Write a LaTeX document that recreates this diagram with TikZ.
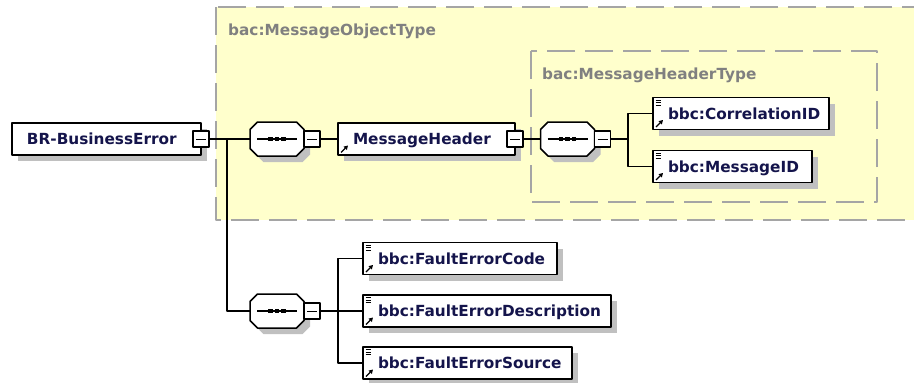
\documentclass[tikz,border=0pt]{standalone}
\usepackage{fontspec}
\setmainfont{DejaVu Sans}
\usetikzlibrary{shadows,arrows.meta}
\definecolor{navy}{RGB}{20,20,75}
\definecolor{lblgray}{RGB}{128,128,128}
\definecolor{dashgray}{RGB}{165,165,165}
\definecolor{paleyellow}{RGB}{255,255,204}
\definecolor{shadowgray}{RGB}{192,192,192}
\newcommand\elemfont{\bfseries\fontsize{15.3}{18}\selectfont}
\tikzset{
  grp/.style={draw=dashgray, line width=2pt, dash pattern=on 28pt off 10pt, fill=paleyellow},
  grplbl/.style={font=\elemfont, text=lblgray, anchor=base west, inner sep=0pt},
  boxshadow/.style={drop shadow={fill=shadowgray, opacity=1, shadow xshift=6pt, shadow yshift=-6pt}},
  elem/.style={draw, line width=1.5pt, fill=white, anchor=north west, minimum height=32pt, outer sep=0pt,
    inner xsep=15pt, inner ysep=0pt, text width=#1, align=left, text height=11.5pt, text depth=0pt,
    font=\elemfont, text=navy, boxshadow},
  refmark/.style={line width=1.3pt, -{Triangle[length=4pt,width=4.5pt]}},
  refelem/.style={elem=#1, path picture={
      \draw[refmark] ([shift={(3pt,2.5pt)}]path picture bounding box.south west) -- ++(7pt,7pt);}},
  bbcelem/.style={elem=#1, path picture={
      \draw[refmark] ([shift={(3pt,2.5pt)}]path picture bounding box.south west) -- ++(7pt,7pt);
      \foreach \k in {2.5,5,7.5}
        \draw[line width=1pt] ([shift={(2.5pt,-\k*1pt)}]path picture bounding box.north west) -- ++(5pt,0pt);}},
  seqbox/.style={minimum width=54pt, minimum height=34pt, inner sep=0pt, outer sep=0pt},
  seqline/.style={draw, line width=1.5pt, fill=white, boxshadow},
  minus/.style={draw, line width=1.2pt, fill=white, minimum size=16pt, inner sep=0pt, outer sep=0pt, path picture={
      \draw[line width=1pt] ([xshift=3pt]path picture bounding box.west) -- ([xshift=-3pt]path picture bounding box.east);}},
  wire/.style={line width=1.5pt}
}
\begin{document}
\begin{tikzpicture}[x=1pt, y=-1pt, line join=round]
  \useasboundingbox (0,0) rectangle (914,383);
  \clip (0,0) rectangle (914,383);
  % groups
  \draw[grp] (216,7) rectangle (930,220);
  \node (objtype) [grplbl] at (228,35) {bac:MessageObjectType};
  \draw[grp] (531,51) rectangle (877,202);
  \node (hdrtype) [grplbl] at (542,79) {bac:MessageHeaderType};
  % root
  \node (br) [elem=159pt] at (12,123) {BR-BusinessError};
  \node (br-m) [minus] at (br.east) {};
  \coordinate (fork1) at (227,139);
  % sequences
  \node (seq1) [seqbox] at (277,139) {};
  \node (seq2) [seqbox] at (567.5,139) {};
  \node (seq3) [seqbox] at (277,311) {};
  \foreach \s in {seq1,seq2,seq3} {
    \draw[seqline] ([xshift=7.5pt]\s.north west) -- ([xshift=-7.5pt]\s.north east) -- ([yshift=-7.5pt]\s.north east)
      -- ([yshift=7.5pt]\s.south east) -- ([xshift=-7.5pt]\s.south east) -- ([xshift=7.5pt]\s.south west)
      -- ([yshift=7.5pt]\s.south west) -- ([yshift=-7.5pt]\s.north west) -- cycle;
    \draw[line width=1.2pt] ([xshift=-20pt]\s.center) -- ([xshift=20pt]\s.center);
    \foreach \d in {-6.5,0,6.5}
      \fill[black] ([xshift=\d*1pt]\s.center) +(-2.25pt,-2.25pt) rectangle +(2.25pt,2.25pt);
  }
  \node (seq1-m) [minus, anchor=west] at (seq1.east) {};
  \node (seq2-m) [minus, anchor=west] at (seq2.east) {};
  \node (seq3-m) [minus, anchor=west] at (seq3.east) {};
  % header branch
  \node (mh) [refelem=147pt] at (338,123) {MessageHeader};
  \node (mh-m) [minus] at (mh.east) {};
  \coordinate (fork2) at (628,139);
  \node (cid) [bbcelem=146pt] at (653,97.5) {bbc:CorrelationID};
  \node (mid) [bbcelem=129pt] at (653,150.5) {bbc:MessageID};
  % fault branch
  \coordinate (fork3) at (338,311);
  \node (fec) [bbcelem=164pt] at (363,242.5) {bbc:FaultErrorCode};
  \node (fed) [bbcelem=218pt] at (363,295) {bbc:FaultErrorDescription};
  \node (fes) [bbcelem=179pt] at (363,347) {bbc:FaultErrorSource};
  % connectors
  \draw[wire] (br-m.east) -- (seq1.west);
  \draw[wire] (fork1) |- (seq3.west);
  \draw[wire] (seq1-m.east) -- (mh.west);
  \draw[wire] (mh-m.east) -- (seq2.west);
  \draw[wire] (seq2-m.east) -- (fork2);
  \draw[wire] (cid.west) -| (fork2) |- (mid.west);
  \draw[wire] (seq3-m.east) -- (fork3);
  \draw[wire] (fec.west) -| (fork3) |- (fes.west);
  \draw[wire] (fork3) -- (fed.west);
\end{tikzpicture}
\end{document}
